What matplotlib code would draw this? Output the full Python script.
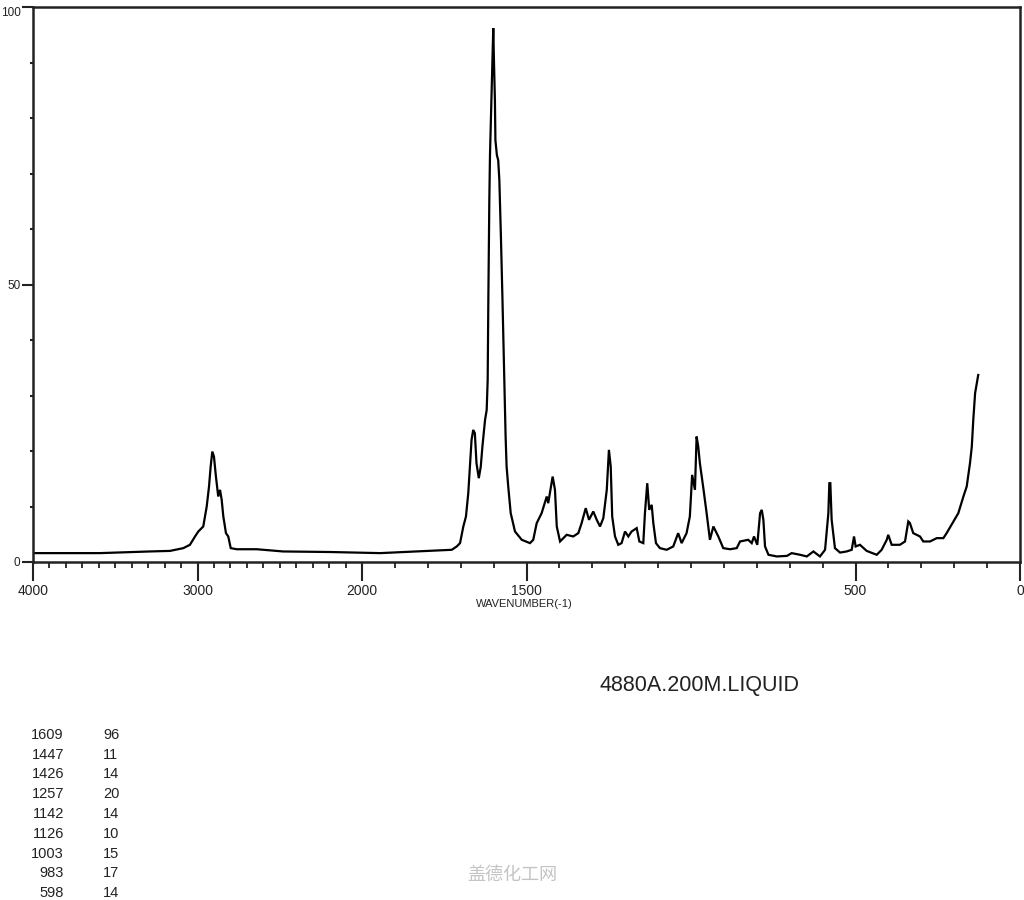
import numpy as np
import matplotlib
matplotlib.use("Agg")
import matplotlib.pyplot as plt
from matplotlib.ticker import FixedLocator

plt.rcParams['font.family'] = ['Liberation Sans', 'DejaVu Sans']

# ---- spectrum data ----
wavenumber = [4000, 3593, 3289, 3167, 3086, 3046, 3015, 2995, 2965, 2944, 2930, 2920, 2910, 2900,
              2888, 2874, 2863, 2853, 2843, 2827, 2813, 2798, 2762, 2640, 2480, 2195, 1945, 1834,
              1727, 1712, 1702, 1692, 1684, 1677, 1672, 1667, 1662, 1657, 1652, 1645, 1639, 1634,
              1626, 1621, 1618, 1616, 1613, 1611, 1606.5, 1603.5, 1601, 1599, 1596, 1594.5, 1590,
              1586, 1582.5, 1577.5, 1573, 1567.5, 1563.5, 1560.5, 1555.5, 1548, 1535, 1514.5,
              1489.5, 1479.5, 1469, 1454, 1438.5, 1434, 1420.5, 1413.5, 1408, 1398, 1378, 1358,
              1342.5, 1332.5, 1320, 1310, 1297, 1286.5, 1276.5, 1266.5, 1256, 1249.5, 1244, 1239.5,
              1231, 1221, 1211, 1200.5, 1190.5, 1180.5, 1165, 1157, 1145, 1140, 1133, 1127, 1119.5,
              1114.5, 1106.5, 1094.5, 1074, 1054, 1039, 1028.5, 1013.5, 1003.5, 996.5, 988, 983,
              978, 973, 962.5, 952.5, 942.5, 932, 917, 902, 881.5, 861, 851, 826, 815.5, 808.5,
              798.5, 790, 785, 780, 775, 764.5, 739, 708.5, 694, 668.5, 648, 628, 608, 592.5,
              582.5, 579.5, 576.5, 572.5, 562.5, 547, 527, 511.5, 504.5, 499.5, 486.5, 466, 435.5,
              420.5, 405, 400.5, 390, 365, 349.5, 339.5, 334.5, 324.5, 304, 294, 273.5, 253, 233,
              223, 202.5, 187.5, 172, 162, 152, 146.5, 142, 136.5, 131.5, 127]
intensity = [1.6, 1.6, 1.9, 2.0, 2.5, 3.1, 4.6, 5.5, 6.4, 10.0, 13.6, 17.2, 19.9, 19.0,
             15.4, 11.8, 13.0, 11.2, 8.2, 5.2, 4.6, 2.5, 2.3, 2.3, 1.9, 1.8, 1.6, 1.9,
             2.2, 2.8, 3.4, 6.4, 8.2, 12.4, 17.2, 22.0, 23.8, 23.2, 17.8, 15.1, 17.2, 20.8,
             25.6, 27.4, 32.8, 47.2, 65.2, 73.3, 83.2, 90.5, 96.2, 90.5, 83.2, 76.0, 73.3,
             72.4, 68.8, 58.0, 47.2, 32.8, 22.6, 17.2, 13.6, 8.8, 5.5, 4.0,
             3.4, 4.0, 7.0, 8.8, 11.8, 10.6, 15.4, 13.0, 6.4, 3.7, 4.9, 4.6,
             5.2, 7.0, 9.7, 7.6, 9.1, 7.6, 6.4, 7.9, 13.0, 20.2, 17.2, 8.2,
             4.6, 3.1, 3.4, 5.5, 4.6, 5.5, 6.1, 3.7, 3.4, 8.8, 14.2, 9.4, 10.3,
             7.0, 3.4, 2.5, 2.2, 2.8, 5.2, 3.4, 5.2, 8.2, 15.7, 13.0, 22.6,
             20.8, 17.8, 13.3, 8.8, 4.0, 6.4, 4.6, 2.5, 2.3, 2.5, 3.7, 4.0, 3.4, 4.6,
             3.1, 8.8, 9.4, 7.6, 2.8, 1.3, 1.0, 1.1, 1.6, 1.3, 1.0, 1.9, 1.0, 2.2,
             8.8, 14.2, 14.2, 7.6, 2.5, 1.7, 1.9, 2.2, 4.6, 2.8, 3.1, 2.0, 1.3,
             2.2, 4.0, 4.9, 3.1, 3.1, 3.7, 7.3, 7.0, 5.2, 4.6, 3.7, 3.7, 4.3, 4.3,
             5.2, 7.3, 8.8, 11.8, 13.6, 17.8, 20.8, 25.6, 30.4, 32.2, 33.7]
assert len(wavenumber) == len(intensity)

x_ticks = [4000, 3000, 2000, 1500, 500, 0]
x_tick_labels = ['4000', '3000', '2000', '1500', '500', '0']
y_ticks = [0, 50, 100]
y_tick_labels = ['0', '50', '100']

peak_wn = [1609, 1447, 1426, 1257, 1142, 1126, 1003, 983, 598]
peak_int = [96, 11, 14, 20, 14, 10, 15, 17, 14]

sample_label = '4880A.200M.LIQUID'
x_label = 'WAVENUMBER(-1)'
watermark = '盖德化工网'


# ---- piecewise scale: below 2000 cm-1 is expanded 2x ----
def fwd(w):
    w = np.asarray(w, dtype=float)
    return np.where(w >= 2000, w, 2000 + 2 * (w - 2000))


def inv(t):
    t = np.asarray(t, dtype=float)
    return np.where(t >= 2000, t, 2000 + (t - 2000) / 2)


W, H = 1024, 900
ink = '#222222'
fig = plt.figure(figsize=(W / 100, H / 100), dpi=100)
ax = fig.add_axes([33 / W, 1 - 562 / H, 987 / W, 555 / H])
ax.set_xscale('function', functions=(fwd, inv))
ax.plot(wavenumber, intensity, color='black', lw=1.6, solid_joinstyle='miter')
ax.set_xlim(4000, 0)
ax.set_ylim(0, 100)

for s in ax.spines.values():
    s.set_color(ink)
    s.set_linewidth(1.8)

ax.set_xticks(x_ticks)
ax.set_xticklabels(x_tick_labels)
ax.xaxis.set_minor_locator(FixedLocator(list(range(0, 4001, 100))))
ax.tick_params(axis='x', which='major', direction='out', length=14, width=1.5,
               labelsize=10, pad=2, colors=ink)
ax.tick_params(axis='x', which='minor', direction='out', length=4, width=1.3, colors=ink)

ax.set_yticks(y_ticks)
ax.set_yticklabels(y_tick_labels)
ax.yaxis.set_minor_locator(FixedLocator(list(range(0, 101, 10))))
ax.tick_params(axis='y', which='major', direction='out', length=8, width=1.5,
               labelsize=8.5, pad=1, colors=ink)
ax.tick_params(axis='y', which='minor', direction='out', length=2.5, width=1.5, colors=ink)
ax.get_yticklabels()[-1].set_va('top')

fig.text(524 / W, 1 - 604 / H, x_label, ha='center', va='center', fontsize=8, color=ink)
fig.text(700 / W, 1 - 686 / H, sample_label, ha='center', va='center', fontsize=15.5, color=ink)

row0 = 735
for i, (wn, it) in enumerate(zip(peak_wn, peak_int)):
    y = 1 - (row0 + i * 19.75) / H
    fig.text(64 / W, y, str(wn), ha='right', va='center', fontsize=10.5, color=ink)
    fig.text(103 / W, y, str(it), ha='left', va='center', fontsize=10.5, color=ink)

fig.text(512 / W, 1 - 875 / H, watermark, ha='center', va='center', fontsize=13,
         color='#c4c4c4', family=['Noto Sans CJK SC', 'DejaVu Sans'])

fig.savefig('out.png', dpi=100)
